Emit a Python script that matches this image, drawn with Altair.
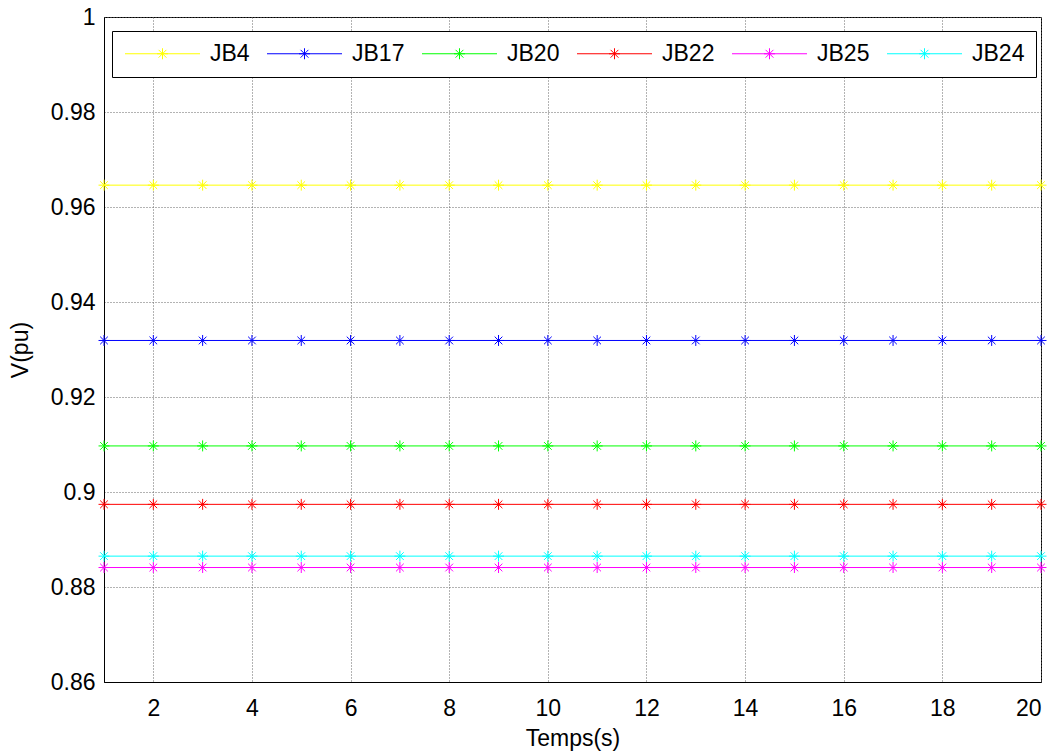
import altair as alt
import pandas as pd

# ---- data ----
series_names = ["JB4", "JB17", "JB20", "JB22", "JB25", "JB24"]
series_levels = [0.9646, 0.9319, 0.9097, 0.8974, 0.8841, 0.8865]
series_colors = ["#ffff00", "#0000ff", "#00ff00", "#ff0000", "#ff00ff", "#00ffff"]
time_s = list(range(1, 21))
x_ticks = [2, 4, 6, 8, 10, 12, 14, 16, 18, 20]
y_ticks = [0.86, 0.88, 0.9, 0.92, 0.94, 0.96, 0.98, 1.0]

rows = []
for i, (name, lvl) in enumerate(zip(series_names, series_levels)):
    for t in time_s:
        rows.append({"serie": name, "order": i, "t": t, "v": lvl})
df = pd.DataFrame(rows)

FONT = "Liberation Sans"
STAR = "M-1,0L1,0M0,-1L0,1M-0.7,-0.7L0.7,0.7M-0.7,0.7L0.7,-0.7"

# legend symbol: unit u = sqrt(size)/2 = 5 px, symbol centred 11.5 px into the entry
x0, x1 = -1.9, 13.1
c = 5.6
r = 1.1
d = 0.78
LEG_SYMBOL = (
    f"M{x0},0L{x1},0M{c - r},0L{c + r},0M{c},{-r}L{c},{r}"
    f"M{c - d},{-d}L{c + d},{d}M{c - d},{d}L{c + d},{-d}"
)

color = alt.Color(
    "serie:N",
    scale=alt.Scale(domain=series_names, range=series_colors),
    sort=series_names,
    legend=alt.Legend(
        title=None,
        orient="none",
        legendX=8,
        legendY=14,
        direction="horizontal",
        columns=6,
        fillColor="white",
        strokeColor="black",
        padding=11,
        columnPadding=15,
        labelOffset=64,
        labelFont=FONT,
        labelFontSize=23,
        labelColor="black",
        symbolType=LEG_SYMBOL,
        symbolSize=100,
        symbolStrokeWidth=1,
        symbolFillColor="transparent",
    ),
)

x = alt.X(
    "t:Q",
    scale=alt.Scale(domain=[1, 20], nice=False, zero=False),
    axis=alt.Axis(
        values=x_ticks,
        title="Temps(s)",
        titleY=63,
        titleBaseline="alphabetic",
    ),
)
y = alt.Y(
    "v:Q",
    scale=alt.Scale(domain=[0.86, 1.0], nice=False, zero=False),
    axis=alt.Axis(
        values=y_ticks,
        format="~g",
        title="V(pu)",
        titleX=-84,
        titleBaseline="middle",
        labelPadding=9,
    ),
)

base = alt.Chart(df)
lines = base.mark_line(strokeWidth=1, clip=False).encode(
    x=x, y=y, color=color, detail="serie:N", order="order:Q"
)
points = base.mark_point(
    shape=STAR, size=120, filled=False, strokeWidth=1, opacity=1
).encode(x=x, y=y, color=color)

chart = (
    alt.layer(lines, points)
    .properties(
        width=937,
        height=665,
        autosize=alt.AutoSizeParams(type="none"),
        padding={"left": 104, "top": 17, "right": 18, "bottom": 74},
        background="white",
    )
    .configure_view(stroke="black", strokeWidth=1)
    .configure_axis(
        labelFont=FONT,
        labelFontSize=23,
        labelColor="black",
        titleFont=FONT,
        titleFontSize=23,
        titleFontWeight="normal",
        titleColor="black",
        domainColor="black",
        domainWidth=1,
        ticks=False,
        grid=True,
        gridColor="#666666",
        gridDash=[1, 2],
        gridWidth=1,
    )
    .configure_axisX(labelPadding=15)
)

chart.save("out.html", embed_options={"renderer": "svg", "actions": False})
